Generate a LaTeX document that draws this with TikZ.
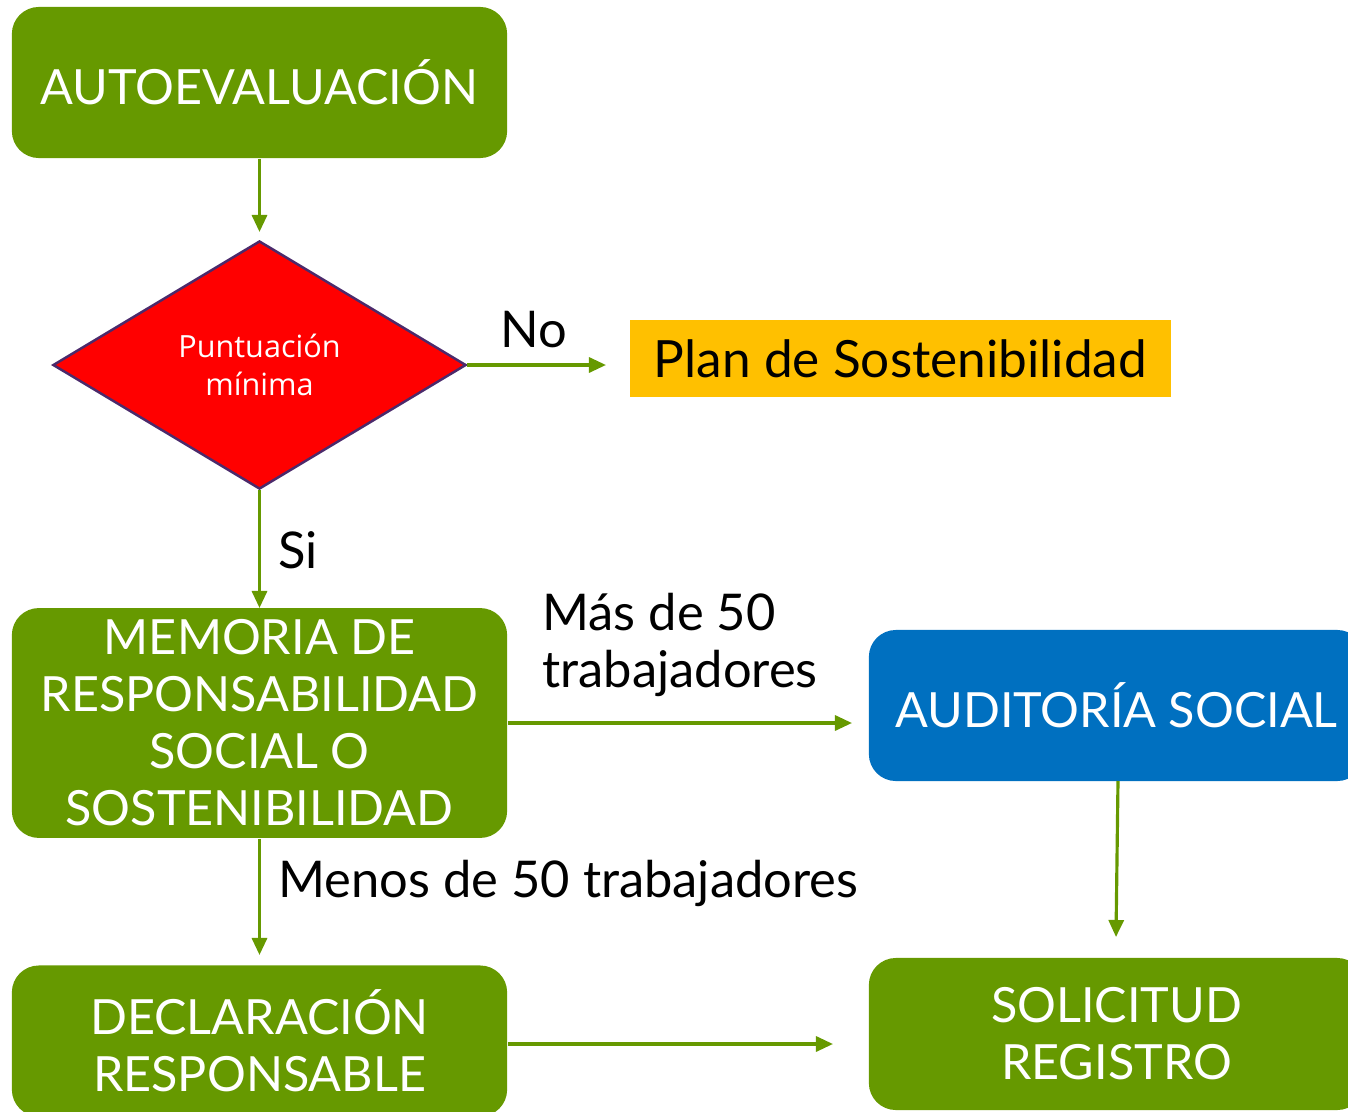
\documentclass[tikz,border=0pt]{standalone}
\usepackage{fontspec}
\setmainfont{Lato}
\newfontfamily\diamfont{Open Sans}
\usepackage{tikz}
\usetikzlibrary{shapes.geometric,arrows.meta,positioning}
\definecolor{verde}{HTML}{669900}
\definecolor{azul}{HTML}{0070C0}
\definecolor{ambar}{HTML}{FFC000}
\definecolor{rojo}{HTML}{FF0000}
\definecolor{borde}{HTML}{4B2A6B}
\begin{document}
\begin{tikzpicture}[x=0.01cm,y=-0.01cm,
	flecha/.style={-{Triangle[length=1.7mm,width=1.5mm]}, draw=verde, line width=0.9pt, fill=verde},
	caja/.style={rectangle, rounded corners=0.27cm, fill=verde, text=white, align=center, minimum width=4.95cm, font=\fontsize{13.8}{16.2}\selectfont},
	rombo/.style={diamond, draw=borde, line width=0.7pt, fill=rojo, text=white, align=center, minimum width=4.13cm, minimum height=2.48cm, inner sep=0pt, font=\diamfont\fontsize{8.7}{10.8}\selectfont},
	etiqueta/.style={text=black, align=left, font=\fontsize{14.4}{16.2}\selectfont}]
				\clip (0,0) rectangle (1348,1112);
				\useasboundingbox (0,0) rectangle (1348,1112);
				
				\node[caja, minimum height=1.51cm] (auto) at (259.5,82.5) {AUTOEVALUACIÓN};
				\node[rombo] (punt) at (259.5,365) {Puntuación\\mínima};
				\node[rectangle, fill=ambar, minimum width=5.41cm, minimum height=0.77cm, font=\fontsize{14.6}{16.2}\selectfont] (plan) at (900.5,358.5) {Plan de Sostenibilidad\hspace{0.45cm}};
				\node[caja, minimum height=2.22cm] (memo) at (259.5,723) {MEMORIA DE\\RESPONSABILIDAD\\SOCIAL O\\SOSTENIBILIDAD};
				\node[caja, fill=azul, minimum height=1.51cm] (audi) at (1116.5,705.5) {AUDITORÍA SOCIAL};
				\node[caja, minimum height=1.52cm] (soli) at (1116.5,1034) {SOLICITUD\\REGISTRO};
				\node[caja, minimum height=1.51cm] (decl) at (259.5,1041) {DECLARACIÓN\\RESPONSABLE};
				
				\coordinate (a1) at (259.5,232);
				\coordinate (a2) at (606,365);
				\coordinate (a3) at (259.5,608);
				\coordinate (a4) at (852,723);
				\coordinate (a5) at (259.5,955);
				\coordinate (a6) at (1116,937);
				\coordinate (a7) at (833,1044);
				
				\draw[flecha] (auto.south) -- (a1);
				\draw[flecha] (punt.east) -- (a2);
				\draw[flecha] (punt.south) -- (a3);
				\draw[flecha] (memo.east |- a4) -- (a4);
				\draw[flecha] (memo.south) -- (a5);
				\draw[flecha] (1118,781) -- (a6);
				\draw[flecha] (decl.east |- a7) -- (a7);
				
				\node[etiqueta] (no) at (534,330) {No};
				\node[etiqueta] (si) at (298,550) {Si};
				\node[etiqueta, anchor=west] (mas) at (530,645) {Más de 50\\trabajadores};
				\node[etiqueta, anchor=west] (menos) at (266,883) {Menos de 50 trabajadores};
				
\end{tikzpicture}
\end{document}
